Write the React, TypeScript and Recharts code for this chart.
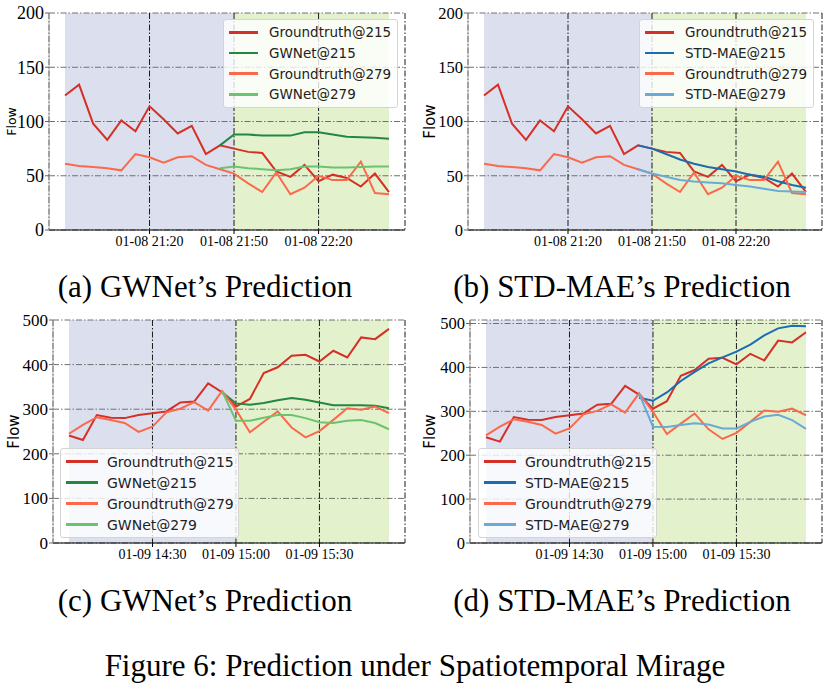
import React from 'react';
import { LineChart, Line, XAxis, YAxis, CartesianGrid, ReferenceArea, Legend } from 'recharts';

// ---------- categories ----------
const times8 = [
  '01-08 20:50', '01-08 20:55', '01-08 21:00', '01-08 21:05', '01-08 21:10', '01-08 21:15',
  '01-08 21:20', '01-08 21:25', '01-08 21:30', '01-08 21:35', '01-08 21:40', '01-08 21:45',
  '01-08 21:50', '01-08 21:55', '01-08 22:00', '01-08 22:05', '01-08 22:10', '01-08 22:15',
  '01-08 22:20', '01-08 22:25', '01-08 22:30', '01-08 22:35', '01-08 22:40', '01-08 22:45',
];
const times9 = [
  '01-09 14:00', '01-09 14:05', '01-09 14:10', '01-09 14:15', '01-09 14:20', '01-09 14:25',
  '01-09 14:30', '01-09 14:35', '01-09 14:40', '01-09 14:45', '01-09 14:50', '01-09 14:55',
  '01-09 15:00', '01-09 15:05', '01-09 15:10', '01-09 15:15', '01-09 15:20', '01-09 15:25',
  '01-09 15:30', '01-09 15:35', '01-09 15:40', '01-09 15:45', '01-09 15:50', '01-09 15:55',
];
const ticks8 = ['01-08 21:20', '01-08 21:50', '01-08 22:20'];
const ticks9 = ['01-09 14:30', '01-09 15:00', '01-09 15:30'];
const yTicksTop = [0, 50, 100, 150, 200];
const yTicksBottom = [0, 100, 200, 300, 400, 500];

// ---------- series values ----------
const gt215Day8 = [124, 134, 98, 83, 101, 91, 114, 102, 89, 96, 70, 78, 75, 72, 71, 54, 49, 60, 45, 51, 48, 40, 52, 35];
const gt279Day8 = [61, 59, 58, 57, 55, 70, 67, 62, 67, 68, 60, 56, 52, 43, 35, 53, 33, 39, 50, 46, 46, 63, 34, 33];
const gwnet215Day8 = [78, 88, 88, 87, 87, 87, 90, 90, 88, 86, 85.5, 85, 84];
const gwnet279Day8 = [57, 58.5, 57, 56, 55, 56, 58.5, 58.5, 57.5, 57.5, 58, 58.5, 58.5];
const stdmae215Day8 = [78, 75, 70, 65, 61, 58, 56, 54, 51, 49, 45, 41.5, 39];
const stdmae279Day8 = [56, 52, 49, 46, 44.6, 43.7, 43, 41.5, 40, 38, 36, 35.4, 35];

const gt215Day9 = [241, 231, 287, 281, 280, 287, 291, 295, 315, 317, 358, 338, 306, 323, 381, 394, 420, 422, 407, 431, 416, 461, 457, 480];
const gt279Day9 = [245, 265, 282, 276, 269, 249, 261, 293, 301, 316, 297, 341, 299, 248, 272, 295, 259, 237, 251, 276, 302, 299, 306, 291];
const gwnet215Day9 = [338, 313, 310, 314, 320, 325, 321, 315, 309, 309, 309, 308, 302];
const gwnet279Day9 = [341, 274, 274, 281, 287, 287, 280, 271, 269, 274, 276, 269, 255];
const stdmae215Day9 = [331, 324, 343, 369, 390, 409, 423, 436, 452, 473, 489, 495, 494];
const stdmae279Day9 = [341, 265, 264, 269, 273, 270, 261, 261, 276, 288, 292, 280, 260];

const PRED_START = 11; // index of the last observed step, where the prediction curves begin
const SPLIT = 12; // first predicted step

const COLORS = {
  gt215: '#d62f26',
  gt279: '#fb694a',
  gw215: '#22883f',
  gw279: '#6cc36f',
  sm215: '#1b6cb0',
  sm279: '#6aaad6',
  hist: '#dce0ee',
  fut: '#e3f2cd',
};

function buildRows(times: string[], gt215: number[], gt279: number[], p215: number[], p279: number[]) {
  return times.map((t, i) => ({
    t,
    gt215: gt215[i],
    gt279: gt279[i],
    p215: i >= PRED_START ? p215[i - PRED_START] : null,
    p279: i >= PRED_START ? p279[i - PRED_START] : null,
  }));
}

const rowsA = buildRows(times8, gt215Day8, gt279Day8, gwnet215Day8, gwnet279Day8);
const rowsB = buildRows(times8, gt215Day8, gt279Day8, stdmae215Day8, stdmae279Day8);
const rowsC = buildRows(times9, gt215Day9, gt279Day9, gwnet215Day9, gwnet279Day9);
const rowsD = buildRows(times9, gt215Day9, gt279Day9, stdmae215Day9, stdmae279Day9);

type LegendCfg = { left: number; top: number; width: number; fontSize: number; rowH: number; lineLen: number; gap: number };
type SeriesItem = { key: string; name: string; color: string };

function LegendBox({ items, cfg }: { items: SeriesItem[]; cfg: LegendCfg }) {
  return (
    <div
      style={{
        width: cfg.width,
        boxSizing: 'border-box',
        background: 'rgba(255,255,255,0.8)',
        border: '1px solid #d4d4d4',
        borderRadius: 3,
        padding: '2px 0 2px 5px',
        fontFamily: 'DejaVu Sans',
        fontSize: cfg.fontSize,
        color: '#222',
        textAlign: 'left',
      }}
    >
      {items.map((it) => (
        <div key={it.key} style={{ display: 'flex', alignItems: 'center', height: cfg.rowH, whiteSpace: 'nowrap' }}>
          <span style={{ display: 'inline-block', width: cfg.lineLen, height: 2.5, background: it.color, marginRight: cfg.gap }} />
          <span>{it.name}</span>
        </div>
      ))}
    </div>
  );
}

type PanelProps = {
  left: number;
  top: number;
  width: number;
  height: number;
  margin: { top: number; right: number; bottom: number; left: number };
  rows: any[];
  times: string[];
  ticks: string[];
  yDomain: [number, number];
  yTicks: number[];
  yFont: number;
  predName: string;
  c215: string;
  c279: string;
  legend: LegendCfg;
  flowSize: number;
  flowOffset: number;
  pad: number;
};

function Panel(p: PanelProps) {
  const dash = '6 2 1.5 2';
  const series: SeriesItem[] = [
    { key: 'gt215', name: 'Groundtruth@215', color: COLORS.gt215 },
    { key: 'p215', name: `${p.predName}@215`, color: p.c215 },
    { key: 'gt279', name: 'Groundtruth@279', color: COLORS.gt279 },
    { key: 'p279', name: `${p.predName}@279`, color: p.c279 },
  ];
  return (
    <div style={{ position: 'absolute', left: p.left, top: p.top, width: p.width, height: p.height }}>
      <LineChart width={p.width} height={p.height} data={p.rows} margin={p.margin}>
        <ReferenceArea
          x1={p.times[0]}
          x2={p.times[SPLIT]}
          fill={COLORS.hist}
          fillOpacity={1}
          stroke="none"
          ifOverflow="visible"
          zIndex={-300}
        />
        <ReferenceArea
          x1={p.times[SPLIT]}
          x2={p.times[p.times.length - 1]}
          fill={COLORS.fut}
          fillOpacity={1}
          stroke="none"
          ifOverflow="visible"
          zIndex={-300}
        />
        <CartesianGrid horizontal vertical={false} stroke="#707070" strokeWidth={1} strokeDasharray={dash} />
        <CartesianGrid horizontal={false} vertical stroke="#1a1a1a" strokeWidth={1} strokeDasharray={dash} />
        <XAxis
          dataKey="t"
          ticks={p.ticks}
          interval={0}
          padding={{ left: p.pad, right: p.pad }}
          height={30}
          tickSize={4}
          tickMargin={2}
          axisLine={{ stroke: '#000', strokeWidth: 1.2 }}
          tickLine={{ stroke: '#000' }}
          tick={{ fontFamily: 'Liberation Serif', fontSize: 14, fill: '#000' }}
        />
        <XAxis
          xAxisId="top"
          orientation="top"
          dataKey="t"
          height={0}
          tick={false}
          tickLine={false}
          axisLine={{ stroke: '#b5b5b5' }}
        />
        <YAxis
          domain={p.yDomain}
          ticks={p.yTicks}
          width={40}
          allowDataOverflow
          tickSize={4}
          tickMargin={1}
          axisLine={{ stroke: '#b5b5b5' }}
          tickLine={{ stroke: '#666' }}
          tick={{ fontFamily: 'Liberation Serif', fontSize: p.yFont, fill: '#000' }}
          label={{
            value: 'Flow',
            angle: -90,
            position: 'insideLeft',
            offset: p.flowOffset,
            style: { textAnchor: 'middle', fontFamily: 'DejaVu Sans', fontSize: p.flowSize, fill: '#000' },
          }}
        />
        <YAxis
          yAxisId="right"
          orientation="right"
          width={0}
          domain={p.yDomain}
          tick={false}
          tickLine={false}
          axisLine={{ stroke: '#b5b5b5' }}
        />
        {series.map((s) => (
          <Line
            key={s.key}
            type="linear"
            dataKey={s.key}
            name={s.name}
            stroke={s.color}
            strokeWidth={2}
            dot={false}
            isAnimationActive={false}
          />
        ))}
        <Legend
          layout="horizontal"
          verticalAlign="middle"
          align="center"
          wrapperStyle={{ position: 'absolute', left: p.legend.left, top: p.legend.top, width: p.legend.width, height: 'auto' }}
          content={() => <LegendBox items={series} cfg={p.legend} />}
        />
      </LineChart>
    </div>
  );
}

const captionStyle: React.CSSProperties = {
  position: 'absolute',
  width: 800,
  height: 40,
  lineHeight: '40px',
  textAlign: 'center',
  fontFamily: 'Liberation Serif',
  fontSize: 31,
  color: '#000',
  whiteSpace: 'nowrap',
};

export default function App() {
  const legendTop: LegendCfg = { left: 223, top: 19, width: 175, fontSize: 13.5, rowH: 20.7, lineLen: 29, gap: 11 };
  const legendBottom: LegendCfg = { left: 60, top: 143, width: 179, fontSize: 14, rowH: 21, lineLen: 32, gap: 9 };
  return (
    <div style={{ position: 'absolute', left: 0, top: 0, width: 830, height: 696, background: '#fff', overflow: 'hidden' }}>
      <Panel
        left={0} top={0} width={415} height={262}
        margin={{ top: 13, right: 10, bottom: 2, left: 9 }}
        rows={rowsA} times={times8} ticks={ticks8}
        yDomain={[0, 200]} yTicks={yTicksTop} yFont={18}
        predName="GWNet" c215={COLORS.gw215} c279={COLORS.gw279}
        legend={legendTop} flowSize={12.5} flowOffset={3} pad={16}
      />
      <Panel
        left={415} top={0} width={415} height={262}
        margin={{ top: 13, right: 8, bottom: 2, left: 13 }}
        rows={rowsB} times={times8} ticks={ticks8}
        yDomain={[0, 200]} yTicks={yTicksTop} yFont={16.5}
        predName="STD-MAE" c215={COLORS.sm215} c279={COLORS.sm279}
        legend={{ ...legendTop, left: 224 }} flowSize={15} flowOffset={2} pad={16}
      />
      <Panel
        left={0} top={305} width={415} height={270}
        margin={{ top: 15, right: 10, bottom: 2, left: 13 }}
        rows={rowsC} times={times9} ticks={ticks9}
        yDomain={[0, 500]} yTicks={yTicksBottom} yFont={17}
        predName="GWNet" c215={COLORS.gw215} c279={COLORS.gw279}
        legend={legendBottom} flowSize={15} flowOffset={1} pad={16}
      />
      <Panel
        left={415} top={305} width={415} height={270}
        margin={{ top: 15, right: 8, bottom: 2, left: 15 }}
        rows={rowsD} times={times9} ticks={ticks9}
        yDomain={[0, 508]} yTicks={yTicksBottom} yFont={16.5}
        predName="STD-MAE" c215={COLORS.sm215} c279={COLORS.sm279}
        legend={{ ...legendBottom, left: 63 }} flowSize={15} flowOffset={0} pad={16}
      />
      <div style={{ ...captionStyle, left: 205 - 400, top: 267 }}>(a) GWNet’s Prediction</div>
      <div style={{ ...captionStyle, left: 622 - 400, top: 267 }}>(b) STD-MAE’s Prediction</div>
      <div style={{ ...captionStyle, left: 205 - 400, top: 581 }}>(c) GWNet’s Prediction</div>
      <div style={{ ...captionStyle, left: 622 - 400, top: 581 }}>(d) STD-MAE’s Prediction</div>
      <div style={{ ...captionStyle, left: 415 - 400, top: 646 }}>Figure 6: Prediction under Spatiotemporal Mirage</div>
    </div>
  );
}
